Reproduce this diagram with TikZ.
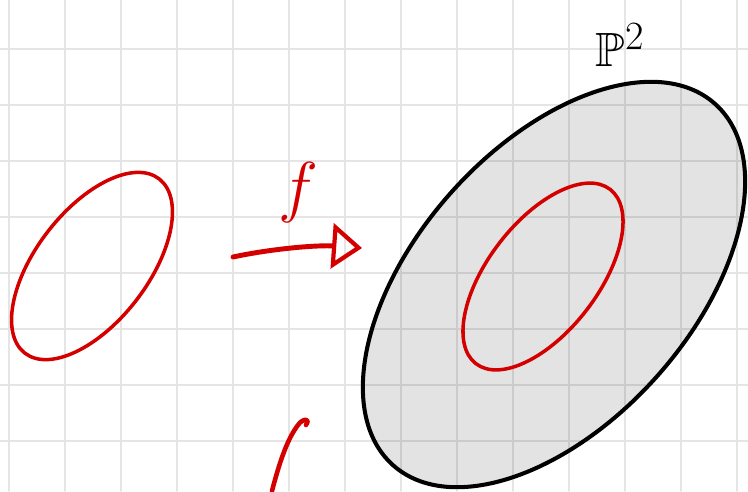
\documentclass[tikz,border=0pt]{standalone}
\usetikzlibrary{arrows.meta}
\usepackage{amssymb}
\usepackage{graphicx}
\definecolor{penred}{RGB}{212,0,0}

\begin{document}
\begin{tikzpicture}[x=0.02cm,y=-0.02cm,line cap=round,line join=round,
  gridline/.style={line width=1.1pt,black!10},
  redloop/.style={penred,line width=2pt},
  mapsto/.style={penred,line width=2.8pt,-{Triangle[open,length=6mm,width=9mm,line width=2.4pt]}}]
\useasboundingbox (0,0) rectangle (748,491);
  % squared paper
  \foreach \gx in {9,65,...,737}{
    \draw[gridline] (\gx,0) -- (\gx,491);}
  \foreach \gy in {49,105,...,441}{
    \draw[gridline] (0,\gy) -- (748,\gy);}
  % the plane, shaded
  \draw[line width=2.3pt,fill=black,fill opacity=0.11]
    (554,284.5) ellipse [x radius=242,y radius=138,rotate=48.3];
  % source curve and its image
  \draw[redloop] (92,266) ellipse [x radius=110,y radius=56,rotate=52.4];
  \draw[redloop] (543,276.5) ellipse [x radius=110,y radius=55,rotate=52.4];
  % the map f
  \coordinate (fstart) at (233,257);
  \coordinate (fend) at (362,248);
  \draw[mapsto] (fstart) .. controls (275,248) and (320,245) .. (fend);
  \node[penred,inner sep=0pt] (flabel) at (298,193)
    {\fontsize{24.88}{26}\selectfont\scalebox{1.55}{$f$}};
  \node[inner sep=0pt] (plane) at (620,45)
    {\fontsize{24.88}{26}\selectfont\scalebox{1.1}{$\mathbb{P}^2$}};
  % start of a stroke at the bottom
  \coordinate (cstart) at (272,491);
  \coordinate (ctop) at (298,425);
  \draw[penred,line width=2.6pt] (cstart) .. controls (280,460) and (288,438) .. (ctop)
    .. controls (303,418) and (311,418) .. (306,425);
\end{tikzpicture}
\end{document}
